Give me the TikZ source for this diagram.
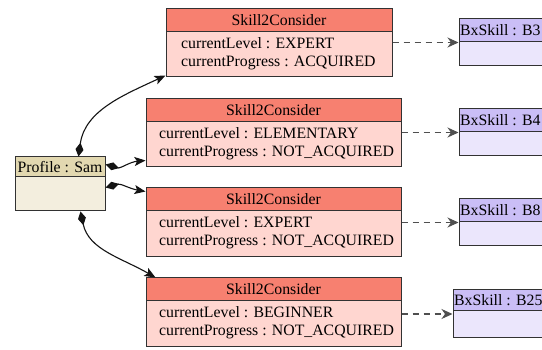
\documentclass[tikz,border=0pt]{standalone}
\usepackage{fontspec}
\setmainfont{Liberation Serif}
\usetikzlibrary{arrows.meta,fit}
\definecolor{skh}{RGB}{247,128,112}
\definecolor{skb}{RGB}{255,214,208}
\definecolor{prh}{RGB}{226,216,176}
\definecolor{prb}{RGB}{243,238,222}
\definecolor{bxh}{RGB}{202,190,246}
\definecolor{bxb}{RGB}{235,230,252}
\definecolor{boxline}{RGB}{50,50,50}
\definecolor{edgec}{RGB}{20,20,20}
\newcommand\umlobj[8]{%
  \node[fit={(#2,-#3) (#4,-#6)}, inner sep=0pt, draw=boxline, fill=#8, line width=1pt] (#1) {};
  \draw[boxline, fill=#7, line width=1pt] (#2,-#3) rectangle (#4,-#5);}
\tikzset{
  txt/.style={font=\fontsize{15.8}{19}\selectfont, inner sep=0pt, text=black},
  attr/.style={txt, anchor=west},
  comp/.style={draw=edgec, line width=1.1pt, {Diamond[length=14pt,width=8pt]}-{Stealth[length=11pt,width=9pt,inset=2.5pt]}},
  dep/.style={draw=edgec!75, line width=1.1pt, dash pattern=on 6pt off 5pt, -{Stealth[length=11pt,width=10pt,inset=3.5pt]}}
}
\begin{document}
\begin{tikzpicture}[x=1pt,y=1pt]
\useasboundingbox[fill=white] (0,0) rectangle (542,-350);
% Profile
\umlobj{pr}{15}{157}{105}{177}{211}{prh}{prb}
\node[txt] (prt) at (60,-167) {Profile : Sam};
% Skill boxes
\umlobj{s1}{166}{9}{392}{32}{77}{skh}{skb}
\node[txt] (s1t) at (279,-20.5) {Skill2Consider};
\node[attr] (s1a) at (181,-43) {currentLevel : EXPERT};
\node[attr] (s1b) at (181,-63) {currentProgress : ACQUIRED};
\umlobj{s2}{146}{99}{401}{122}{167}{skh}{skb}
\node[txt] (s2t) at (273.5,-110.5) {Skill2Consider};
\node[attr] (s2a) at (159,-133) {currentLevel : ELEMENTARY};
\node[attr] (s2b) at (159,-153) {currentProgress : NOT\_ACQUIRED};
\umlobj{s3}{146}{188}{401}{211}{257}{skh}{skb}
\node[txt] (s3t) at (273.5,-199.5) {Skill2Consider};
\node[attr] (s3a) at (159,-222) {currentLevel : EXPERT};
\node[attr] (s3b) at (159,-242) {currentProgress : NOT\_ACQUIRED};
\umlobj{s4}{146}{278}{401}{301}{347}{skh}{skb}
\node[txt] (s4t) at (273.5,-289.5) {Skill2Consider};
\node[attr] (s4a) at (159,-312) {currentLevel : BEGINNER};
\node[attr] (s4b) at (159,-332) {currentProgress : NOT\_ACQUIRED};
% BxSkill boxes
\umlobj{b1}{459}{19}{548}{42}{66}{bxh}{bxb}
\node[attr] (b1t) at (460,-30.5) {BxSkill : B3};
\umlobj{b2}{459}{109}{548}{132}{156}{bxh}{bxb}
\node[attr] (b2t) at (460,-120.5) {BxSkill : B4};
\umlobj{b3}{459}{199}{548}{222}{246}{bxh}{bxb}
\node[attr] (b3t) at (460,-210.5) {BxSkill : B8};
\umlobj{b4}{453}{290}{548}{311}{338}{bxh}{bxb}
\node[attr] (b4t) at (454,-300.5) {BxSkill : B25};
% composition edges
\draw[comp] ([xshift=-27pt]pr.north east) to[out=82, in=205] ([yshift=2pt]s1.south west);
\draw[comp] ([yshift=-8pt]pr.north east) to[out=-15, in=185] ([yshift=7pt]s2.south west);
\draw[comp] ([yshift=-31pt]pr.north east) to[out=15, in=170] ([yshift=-4pt]s3.north west);
\draw[comp] ([xshift=-25pt]pr.south east) to[out=-78, in=150] ([xshift=10pt]s4.north west);
% dependency edges
\draw[dep] (s1.east |- b1.west) -- (b1.west);
\draw[dep] (s2.east |- b2.west) -- (b2.west);
\draw[dep] (s3.east |- b3.west) -- (b3.west);
\draw[dep] (s4.east |- b4.west) -- (b4.west);
\end{tikzpicture}
\end{document}
